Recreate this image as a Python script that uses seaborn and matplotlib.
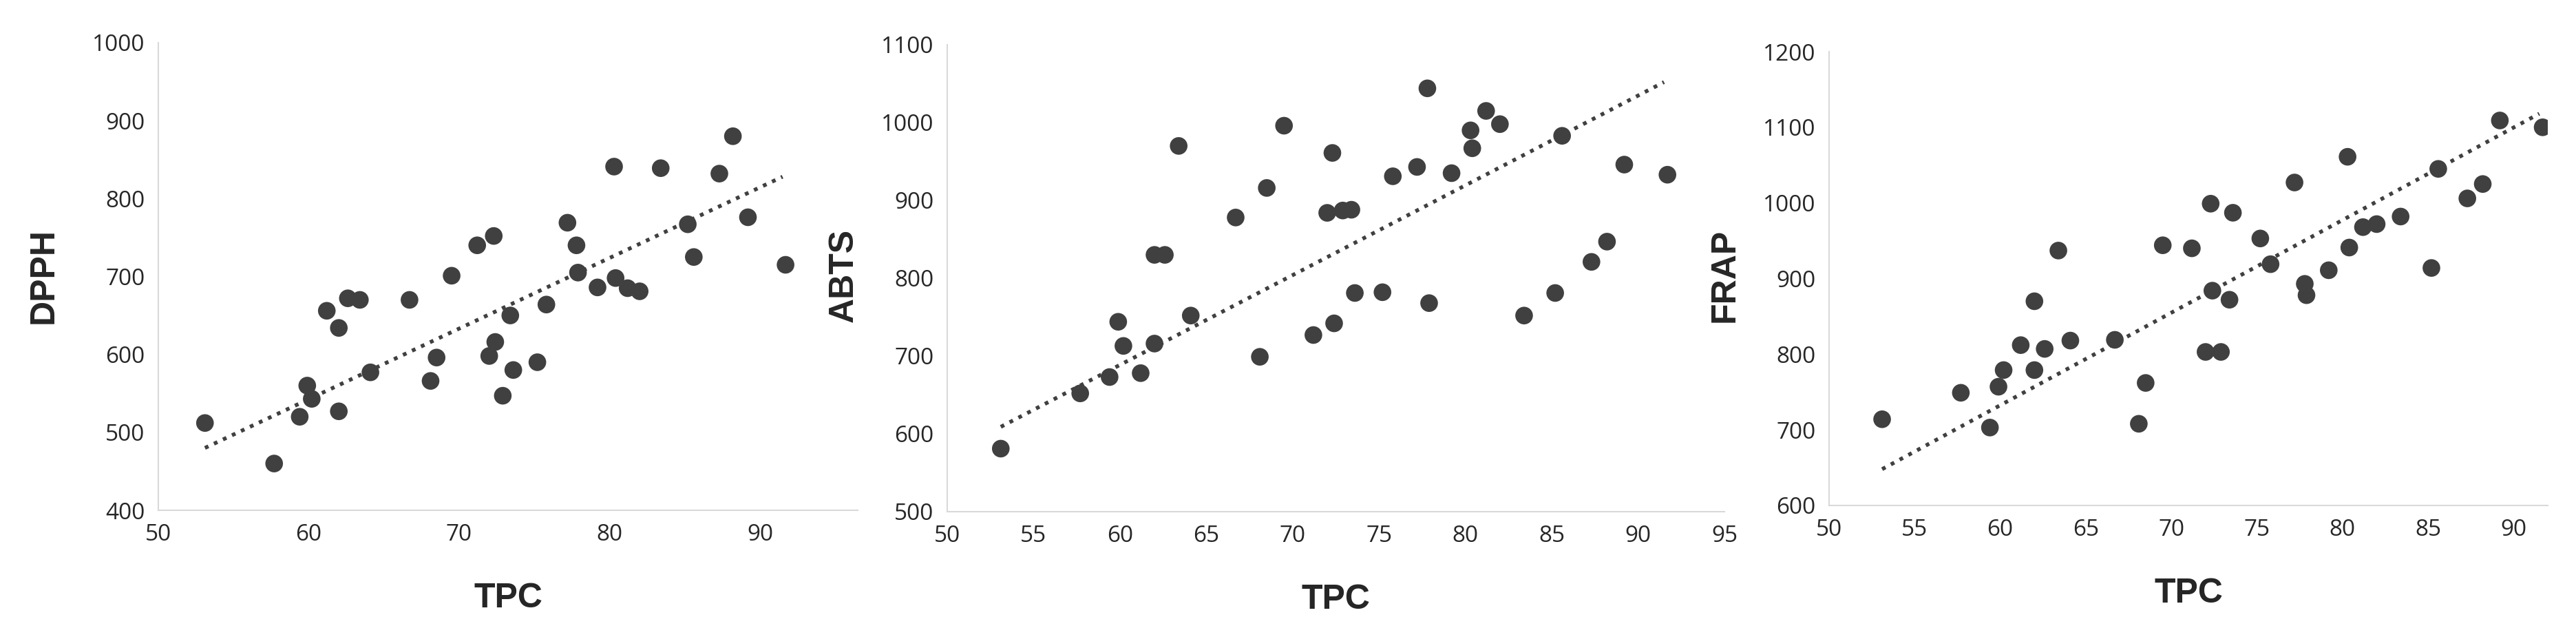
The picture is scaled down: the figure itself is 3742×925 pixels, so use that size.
import numpy as np
import pandas as pd
import matplotlib
matplotlib.use("Agg")
import matplotlib.pyplot as plt
import seaborn as sns

tpc = [53.1, 57.7, 59.4, 59.9, 60.2, 61.2, 62.0, 62.0, 62.6, 63.4, 64.1, 66.7, 68.1,
       68.5, 69.5, 71.2, 72.0, 72.3, 72.4, 72.9, 73.4, 73.6, 75.2, 75.8, 77.2, 77.8,
       77.9, 79.2, 80.3, 80.4, 81.2, 82.0, 83.4, 85.2, 85.6, 87.3, 88.2, 89.2, 91.7]
dpph = [512, 460, 520, 560, 543, 656, 634, 527, 672, 670, 577, 670, 566,
        596, 701, 740, 598, 752, 616, 547, 650, 580, 590, 664, 769, 740,
        705, 686, 841, 698, 685, 681, 839, 767, 725, 832, 880, 776, 715]
abts = [581, 652, 673, 744, 713, 678, 716, 830, 830, 970, 752, 878, 699,
        916, 996, 727, 884, 961, 742, 887, 888, 781, 782, 931, 943, 1044,
        768, 935, 990, 967, 1015, 998, 752, 781, 983, 821, 847, 946, 933]
frap = [714, 749, 703, 757, 779, 812, 779, 870, 807, 937, 818, 819, 708,
        762, 944, 940, 803, 999, 884, 803, 872, 987, 953, 919, 1027, 893,
        878, 911, 1061, 941, 968, 972, 982, 914, 1045, 1006, 1025, 1109, 1100]

# trendline end points as drawn in the original (x from 53.1 to ~91.5)
trend_x = [53.1, 91.5]
dpph_trend = [480, 828]
abts_trend = [609, 1052]
frap_trend = [648, 1118]

panels = [
    ("DPPH", dpph, dpph_trend, (50, 96.5), range(50, 91, 10), (400, 1000), range(400, 1001, 100),
     [230 / 3742, 1 - 741 / 925, 1016 / 3742, 679 / 925], 64),
    ("ABTS", abts, abts_trend, (50, 95), range(50, 96, 5), (500, 1100), range(500, 1101, 100),
     [1376 / 3742, 1 - 743 / 925, 1129 / 3742, 678 / 925], 1226),
    ("FRAP", frap, frap_trend, (50, 92), range(50, 91, 5), (600, 1200), range(600, 1201, 100),
     [2657 / 3742, 1 - 734 / 925, 1044 / 3742, 659 / 925], 2506),
]

sns.set_style("white")
plt.rcParams["font.family"] = ["Open Sans", "DejaVu Sans"]

fig = plt.figure(figsize=(37.42, 9.25), dpi=100)
for name, ys, trend, xlim, xt, ylim, yt, pos, lab_x in panels:
    ax = fig.add_axes(pos)
    df = pd.DataFrame({"TPC": tpc, name: ys})
    sns.scatterplot(data=df, x="TPC", y=name, ax=ax, s=340, color="#404040",
                    edgecolor="none", zorder=3)
    ax.plot(trend_x, trend, linestyle=(0, (1, 1.6)), color="#404040", linewidth=4)
    ax.set_xlim(*xlim)
    ax.set_ylim(*ylim)
    ax.set_xticks(list(xt))
    ax.set_yticks(list(yt))
    ax.tick_params(labelsize=24, length=0, pad=14)
    for s in ["top", "right"]:
        ax.spines[s].set_visible(False)
    for s in ["left", "bottom"]:
        ax.spines[s].set_color("#d9d9d9")
        ax.spines[s].set_linewidth(1.5)
    ax.set_xlabel("TPC", fontsize=36, fontweight="bold", family="Liberation Sans", labelpad=38)
    ax.set_ylabel("")
    fig.text(lab_x / 3742, 1 - 400 / 925, name, rotation=90, fontsize=36, fontweight="bold",
             family="Liberation Sans", ha="center", va="center")

fig.savefig("out.png", dpi=100)
